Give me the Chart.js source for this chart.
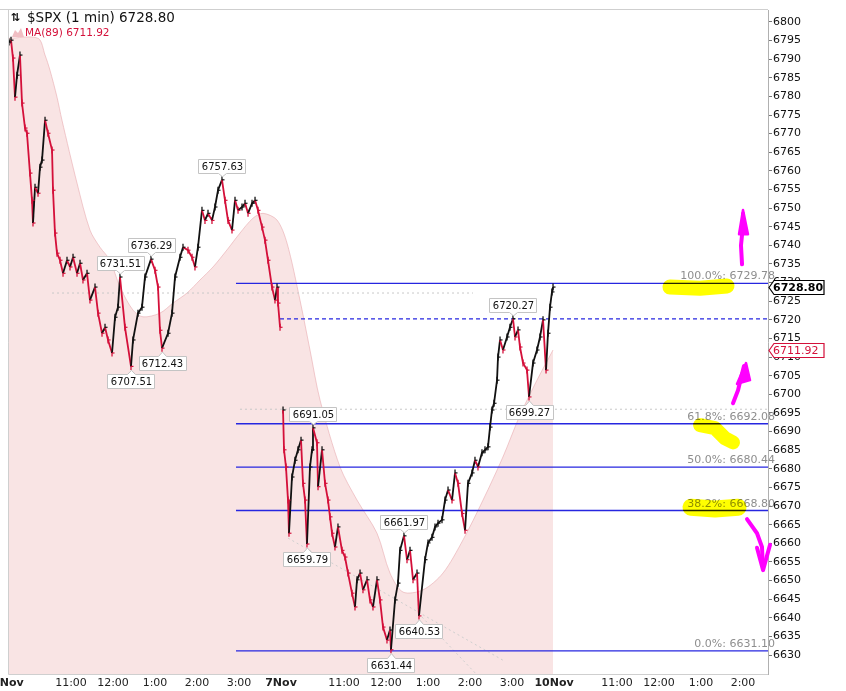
<!DOCTYPE html>
<html>
<head>
<meta charset="utf-8">
<script src="https://cdn.jsdelivr.net/npm/chart.js@4.4.1/dist/chart.umd.min.js"></script>
<style>
  html, body { margin: 0; padding: 0; background: #fff; }
  canvas { display: block; }
</style>
</head>
<body>
<canvas id="spxChart" width="846" height="691"></canvas>
<script>
// minutes counted from 6 Nov 9:30 (7 Nov opens at 390, 10 Nov at 780)
const nov6Minutes = [1.4, 4.3, 7.1, 10, 12.9, 17.1, 20, 24.3, 27.1, 31.4, 34.3, 35.7, 38.6, 42.9, 45.7, 48.6, 52.9, 57.1, 62.9, 64.3, 67.1, 70, 74.3, 78.6, 84.3, 88.6, 92.9, 98.6, 102.9, 107.1, 112.9, 117.1, 124.3, 128.6, 134.3, 138.6, 142.9, 148.6, 152.9, 157.1, 160, 167.1, 175.7, 178.6, 185.7, 191.4, 195.7, 204.3, 210, 214.3, 217.1, 220, 228.6, 234.3, 238.6, 245.7, 250, 257.1, 262.9, 267.1, 271.4, 277.1, 281.4, 285.7, 291.4, 295.7, 300, 305.7, 310, 314.3, 320, 324.3, 328.6, 334.3, 338.6, 342.9, 348.6, 352.9, 357.1, 362.9, 367.1, 371.4, 377.1, 381.4, 384.3, 385.7, 388.6]
const nov6Prices = [6794.6, 6795.1, 6790.3, 6779.8, 6785.7, 6791.1, 6778.2, 6771.5, 6770.1, 6759.4, 6752.1, 6746.0, 6755.6, 6754.0, 6761.0, 6762.9, 6773.6, 6770.1, 6765.6, 6754.8, 6743.3, 6737.9, 6736.0, 6732.5, 6736.0, 6734.2, 6736.8, 6732.5, 6735.2, 6730.7, 6732.5, 6725.3, 6728.8, 6721.8, 6716.4, 6718.0, 6714.6, 6711.1, 6720.7, 6723.4, 6731.5, 6718.0, 6707.5, 6714.6, 6721.8, 6723.4, 6731.5, 6736.3, 6733.3, 6728.8, 6717.2, 6712.4, 6716.4, 6721.8, 6731.5, 6736.8, 6739.5, 6738.7, 6736.8, 6734.2, 6739.5, 6749.4, 6746.7, 6748.6, 6746.7, 6750.3, 6754.8, 6757.6, 6752.1, 6746.7, 6744.1, 6752.1, 6749.4, 6750.3, 6751.3, 6748.6, 6751.3, 6752.1, 6749.4, 6744.9, 6741.4, 6736.0, 6728.8, 6725.3, 6728.8, 6724.5, 6718.0]

const nov7Minutes = [392.9, 394.3, 397.1, 400, 401.4, 405.7, 410, 414.3, 418.6, 421.4, 424.3, 427.1, 431.4, 434.3, 435.7, 441.4, 442.9, 448.6, 452.9, 457.1, 460, 462.9, 467.1, 471.4, 477.1, 481.4, 485.7, 491.4, 495.7, 498.6, 502.9, 507.1, 512.9, 517.1, 521.4, 527.1, 531.4, 535.7, 541.4, 545.7, 547.1, 552.9, 557.1, 560, 565.7, 570, 574.3, 578.6, 584.3, 587.1, 595.7, 600, 605.7, 610, 614.3, 620, 624.3, 628.6, 634.3, 638.6, 642.9, 648.6, 652.9, 657.1, 662.9, 667.1, 671.4, 677.1, 681.4, 685.7, 688.6, 691.4, 694.3, 698.6, 700, 702.9, 707.1, 712.9, 717.1, 721.4, 724.3, 728.6, 731.4, 735.7, 741.4, 744.3, 750, 755.7, 760, 764.3, 768.6, 771.4, 774.3, 777.1, 778.6]
const nov7Prices = [6695.8, 6685.1, 6680.5, 6671.6, 6662.7, 6677.8, 6682.3, 6685.1, 6687.7, 6676.1, 6671.6, 6659.8, 6680.5, 6685.1, 6691.0, 6687.0, 6675.2, 6685.1, 6676.1, 6671.6, 6667.1, 6662.7, 6659.0, 6664.4, 6658.1, 6656.3, 6652.0, 6646.6, 6642.9, 6650.2, 6652.0, 6647.5, 6650.2, 6644.8, 6642.9, 6650.2, 6644.8, 6637.5, 6634.0, 6636.7, 6631.4, 6644.8, 6649.3, 6658.1, 6662.0, 6655.6, 6658.1, 6650.2, 6652.0, 6640.5, 6655.6, 6660.1, 6661.6, 6664.4, 6665.4, 6666.3, 6671.6, 6674.3, 6671.6, 6678.9, 6676.1, 6668.0, 6663.5, 6676.1, 6678.9, 6682.3, 6680.5, 6684.3, 6685.1, 6685.9, 6691.2, 6695.8, 6697.6, 6703.8, 6710.0, 6714.6, 6711.9, 6715.4, 6718.0, 6720.3, 6715.4, 6717.3, 6712.7, 6708.4, 6706.5, 6699.3, 6708.4, 6711.9, 6715.4, 6720.0, 6706.5, 6716.4, 6723.4, 6727.5, 6728.8]

const maMinutes = [0, 42.9, 52.9, 60, 70, 77.1, 98.6, 117.1, 131.4, 145.7, 160, 178.6, 192.9, 217.1, 235.7, 255.7, 274.3, 292.9, 312.9, 331.4, 350, 364.3, 384.3, 398.6, 417.1, 431.4, 445.7, 474.3, 498.6, 527.1, 545.7, 564.3, 592.9, 621.4, 650, 678.6, 707.1, 731.4, 755.7, 778.6]
const maValues = [6795.6, 6795.6, 6791.1, 6787.0, 6779.8, 6773.6, 6756.7, 6744.1, 6739.5, 6736.0, 6728.8, 6722.6, 6720.8, 6721.8, 6724.5, 6727.2, 6730.7, 6734.2, 6738.8, 6743.3, 6747.3, 6748.6, 6746.8, 6740.6, 6725.3, 6711.9, 6698.5, 6680.5, 6671.6, 6662.7, 6652.0, 6646.9, 6647.5, 6652.0, 6660.9, 6671.6, 6683.2, 6694.4, 6703.8, 6711.9]

// swing high / low callouts
const calloutValues = [6757.63, 6736.29, 6731.51, 6712.43, 6707.51, 6720.27, 6699.27, 6691.05, 6659.79, 6661.97, 6640.53, 6631.44]
const calloutMinutes = [305.7, 204.3, 160, 220, 175.7, 721.4, 744.3, 435.7, 427.1, 565.7, 587.1, 547.1]
const calloutAbove = [true, true, true, false, false, true, false, true, false, true, false, false]

// fibonacci retracement
const fibLevels = [6729.78, 6692.08, 6680.44, 6668.80, 6631.10]
const fibNames = ['100.0%', '61.8%', '50.0%', '38.2%', '0.0%']
const fibStart = 325.7
const resistance = 6720.27
const resistanceStart = 388.6

// dotted helper lines
const dottedLevels = [6727.2, 6696.0]
const dottedStarts = [62.9, 331.4]
const dottedEnds = [664.3, 1085.7]
const trendA = [[400, 6661.4], [707.1, 6628.6]]
const trendB = [[591.4, 6640.2], [674.3, 6623.8]]

// axes
const xMin = 0
const xMax = 1085.7
const yMin = 6624.9
const yMax = 6803.2
const yTicks = []
for (let v = 6630; v <= 6800; v += 5) yTicks.push(v)
const xTickMinutes = [0, 90, 150, 210, 270, 330, 390, 480, 540, 600, 660, 720, 780, 870, 930, 990, 1050]
const xTickLabels = ['6Nov', '11:00', '12:00', '1:00', '2:00', '3:00', '7Nov', '11:00', '12:00', '1:00', '2:00', '3:00', '10Nov', '11:00', '12:00', '1:00', '2:00']

const lastPrice = 6728.80
const maLast = 6711.92

// hand drawn marks (minute, price)
const hiliteTop = [[945.7, 6728.8], [988.6, 6728.5], [1027.1, 6729.1]]
const hiliteMid = [[988.6, 6691.7], [1010, 6690.9], [1024.3, 6688.2], [1035.7, 6687.1]]
const hiliteLow = [[975.7, 6669.7], [1010, 6669.2], [1042.9, 6669.7]]
const arrowTopShaft = [[1048.6, 6734.9], [1047.1, 6740.0], [1050, 6745.4], [1050, 6748.5]]
const arrowTopHead = [[1044.3, 6743.0], [1050, 6749.5], [1057.1, 6743.0]]
const arrowMidShaft = [[1035.7, 6697.6], [1042.9, 6701.1], [1047.1, 6704.4], [1051.4, 6707.6]]
const arrowMidHead = [[1041.4, 6702.8], [1054.3, 6708.4], [1060, 6703.8]]
const arrowLowShaft = [[1055.7, 6666.5], [1070, 6662.7], [1077.1, 6659.0], [1078.6, 6653.1]]
const arrowLowHead = [[1070, 6658.8], [1078.6, 6652.8], [1088.6, 6659.6]]

const FONT = '"DejaVu Sans", Verdana, sans-serif'
const RED = '#d4103a'
const BLACK = '#111'
const BLUE = '#2626e0'

function pts(xs, ys) {
  return xs.map((x, i) => ({x: x, y: ys[i]}))
}

const priceData = pts(nov6Minutes, nov6Prices).concat([{x: 390, y: null}], pts(nov7Minutes, nov7Prices))

function barColor(ctx) {
  const d = ctx.dataset.data
  const i = ctx.dataIndex
  if (i == 0 || d[i - 1].y == null) return BLACK
  return d[i].y < d[i - 1].y ? RED : BLACK
}

const datasets = [
  {
    label: '$SPX',
    data: priceData,
    borderWidth: 1.8,
    borderColor: BLACK,
    segment: {
      borderColor: ctx => ctx.p1.parsed.y < ctx.p0.parsed.y ? RED : BLACK
    },
    pointStyle: 'dash',
    pointRadius: 2.5,
    pointBorderWidth: 1.2,
    pointBorderColor: barColor,
    spanGaps: false,
    order: 1
  },
  {
    // high-low stroke of each bar
    data: priceData,
    showLine: false,
    pointStyle: 'line',
    rotation: 90,
    pointRadius: 3.5,
    pointBorderWidth: 1.3,
    pointBorderColor: barColor,
    order: 2
  },
  {
    label: 'MA(89)',
    data: pts(maMinutes, maValues),
    borderColor: 'rgba(232, 170, 175, 0.6)',
    borderWidth: 1,
    backgroundColor: 'rgb(249, 228, 228)',
    fill: 'start',
    pointRadius: 0,
    tension: 0.3,
    order: 10
  },
  {
    data: [{x: resistanceStart, y: resistance}, {x: xMax, y: resistance}],
    borderColor: BLUE, borderWidth: 1.3, borderDash: [4, 3], pointRadius: 0, order: 4
  }
]

fibLevels.forEach(level => {
  datasets.push({
    data: [{x: fibStart, y: level}, {x: xMax, y: level}],
    borderColor: BLUE, borderWidth: 1.4, pointRadius: 0, order: 4
  })
})

dottedLevels.forEach((level, i) => {
  datasets.push({
    data: [{x: dottedStarts[i], y: level}, {x: dottedEnds[i], y: level}],
    borderColor: '#c8c8c8', borderWidth: 1, borderDash: [2, 3], pointRadius: 0, order: 6
  })
})

;[trendA, trendB].forEach(t => {
  datasets.push({
    data: t.map(p => ({x: p[0], y: p[1]})),
    borderColor: '#cfcfcf', borderWidth: 1, borderDash: [2, 3], pointRadius: 0, order: 6
  })
})

function toPx(chart, p) {
  return [chart.scales.x.getPixelForValue(p[0]), chart.scales.y.getPixelForValue(p[1])]
}

function strokePath(ctx, chart, list) {
  ctx.beginPath()
  list.forEach((p, i) => {
    const q = toPx(chart, p)
    if (i == 0) ctx.moveTo(q[0], q[1])
    else ctx.lineTo(q[0], q[1])
  })
}

function callout(ctx, px, py, text, above) {
  ctx.font = '10px ' + FONT
  const w = Math.round(ctx.measureText(text).width) + 6
  const h = 14
  const left = Math.round(px - w / 2) + 0.5
  px = Math.round(px) + 0.5
  let top
  ctx.beginPath()
  if (above) {
    const edge = Math.round(py - 7) + 0.5
    top = edge - h
    ctx.moveTo(left, top)
    ctx.lineTo(left + w, top)
    ctx.lineTo(left + w, edge)
    ctx.lineTo(px + 4, edge)
    ctx.lineTo(px, py - 3)
    ctx.lineTo(px - 4, edge)
    ctx.lineTo(left, edge)
  } else {
    const edge = Math.round(py + 8) + 0.5
    top = edge
    ctx.moveTo(left, edge)
    ctx.lineTo(px - 4, edge)
    ctx.lineTo(px, py + 4)
    ctx.lineTo(px + 4, edge)
    ctx.lineTo(left + w, edge)
    ctx.lineTo(left + w, edge + h)
    ctx.lineTo(left, edge + h)
  }
  ctx.closePath()
  ctx.fillStyle = '#fff'
  ctx.fill()
  ctx.strokeStyle = '#c4c4c4'
  ctx.lineWidth = 1
  ctx.stroke()
  ctx.fillStyle = '#111'
  ctx.textAlign = 'center'
  ctx.textBaseline = 'middle'
  ctx.fillText(text, px, top + h / 2 + 0.5)
}

function priceTag(ctx, x0, py, text, color, bold) {
  py = Math.round(py) + 0.5
  ctx.beginPath()
  ctx.moveTo(x0, py)
  ctx.lineTo(x0 + 5, py - 7)
  ctx.lineTo(x0 + 55, py - 7)
  ctx.lineTo(x0 + 55, py + 7)
  ctx.lineTo(x0 + 5, py + 7)
  ctx.closePath()
  ctx.fillStyle = '#fff'
  ctx.fill()
  ctx.strokeStyle = color
  ctx.lineWidth = 1.2
  ctx.stroke()
  ctx.font = (bold ? 'bold ' : '') + '11px ' + FONT
  ctx.fillStyle = color
  ctx.textAlign = 'left'
  ctx.textBaseline = 'middle'
  ctx.fillText(text, x0 + 4, py + 0.5)
}

const overlay = {
  id: 'overlay',
  beforeDraw(chart) {
    const ctx = chart.ctx
    ctx.save()
    ctx.fillStyle = '#fff'
    ctx.fillRect(0, 0, chart.width, chart.height)
    // fib labels sit under the axis labels
    ctx.font = '11px ' + FONT
    ctx.fillStyle = '#8e8e8e'
    ctx.textAlign = 'right'
    ctx.textBaseline = 'alphabetic'
    fibLevels.forEach((level, i) => {
      const y = chart.scales.y.getPixelForValue(level)
      ctx.fillText(fibNames[i] + ': ' + level.toFixed(2), chart.chartArea.right + 7, y - 4)
    })
    ctx.restore()
  },
  afterDatasetsDraw(chart) {
    const ctx = chart.ctx
    ctx.save()
    calloutValues.forEach((v, i) => {
      const q = toPx(chart, [calloutMinutes[i], v])
      callout(ctx, q[0], q[1], v.toFixed(2), calloutAbove[i])
    })
    ctx.restore()
  },
  afterDraw(chart) {
    const ctx = chart.ctx
    const area = chart.chartArea
    const xs = chart.scales.x
    const ys = chart.scales.y
    ctx.save()

    // frame
    ctx.strokeStyle = '#cfcfcf'
    ctx.lineWidth = 1
    ctx.beginPath()
    ctx.moveTo(0, area.top - 0.5)
    ctx.lineTo(area.right, area.top - 0.5)
    ctx.moveTo(area.left + 0.5, area.top)
    ctx.lineTo(area.left + 0.5, area.bottom + 0.5)
    ctx.lineTo(area.right, area.bottom + 0.5)
    ctx.stroke()

    // time axis labels
    ctx.fillStyle = '#222'
    ctx.textAlign = 'center'
    ctx.textBaseline = 'middle'
    xTickMinutes.forEach((m, i) => {
      const day = xTickLabels[i].indexOf('Nov') >= 0
      ctx.font = (day ? 'bold ' : '') + '11px ' + FONT
      ctx.fillText(xTickLabels[i], xs.getPixelForValue(m), area.bottom + 9)
    })

    // legend
    ctx.textAlign = 'left'
    ctx.fillStyle = '#111'
    ctx.font = 'bold 11px ' + FONT
    ctx.fillText('\u21C5', 11, 18)
    ctx.font = '13.5px ' + FONT
    ctx.fillText('$SPX (1 min) ' + lastPrice.toFixed(2), 27, 18)
    ctx.fillStyle = 'rgb(240, 190, 195)'
    ctx.beginPath()
    ctx.moveTo(12, 37)
    ctx.lineTo(15, 30)
    ctx.lineTo(18, 33)
    ctx.lineTo(21, 28)
    ctx.lineTo(24, 37)
    ctx.closePath()
    ctx.fill()
    ctx.fillStyle = RED
    ctx.font = '10.5px ' + FONT
    ctx.fillText('MA(89) ' + maLast.toFixed(2), 25, 33)

    // price tags on the axis
    priceTag(ctx, area.right + 1, ys.getPixelForValue(lastPrice), lastPrice.toFixed(2), '#000', true)
    priceTag(ctx, area.right + 1, ys.getPixelForValue(maLast), maLast.toFixed(2), RED, false)

    // hand drawn highlighter
    ctx.globalCompositeOperation = 'multiply'
    ctx.strokeStyle = '#ffff00'
    ctx.lineCap = 'round'
    ctx.lineJoin = 'round'
    ctx.lineWidth = 15
    strokePath(ctx, chart, hiliteTop)
    ctx.stroke()
    ctx.lineWidth = 14
    strokePath(ctx, chart, hiliteMid)
    ctx.stroke()
    ctx.lineWidth = 17
    strokePath(ctx, chart, hiliteLow)
    ctx.stroke()
    ctx.globalCompositeOperation = 'source-over'

    // hand drawn arrows
    ctx.strokeStyle = '#ff00ff'
    ctx.fillStyle = '#ff00ff'
    ctx.lineWidth = 4
    ;[[arrowTopShaft, arrowTopHead, true], [arrowMidShaft, arrowMidHead, true], [arrowLowShaft, arrowLowHead, false]].forEach(a => {
      strokePath(ctx, chart, a[0])
      ctx.stroke()
      strokePath(ctx, chart, a[1])
      if (a[2]) {
        ctx.closePath()
        ctx.fill()
        ctx.lineWidth = 2.5
        ctx.stroke()
        ctx.lineWidth = 4
      } else {
        ctx.stroke()
      }
    })
    ctx.restore()
  }
}

const ctx = document.getElementById('spxChart').getContext('2d')
const chart = new Chart(ctx, {
  type: 'line',
  data: { datasets: datasets },
  options: {
    responsive: false,
    animation: false,
    devicePixelRatio: 1,
    layout: { padding: { left: 8, top: 10, right: 0, bottom: 0 } },
    plugins: { legend: { display: false }, tooltip: { enabled: false } },
    elements: { line: { tension: 0 } },
    scales: {
      x: {
        type: 'linear',
        min: xMin,
        max: xMax,
        ticks: { display: false },
        grid: { display: false },
        border: { display: false },
        afterFit: scale => { scale.height = 17 }
      },
      y: {
        type: 'linear',
        position: 'right',
        min: yMin,
        max: yMax,
        afterBuildTicks: scale => { scale.ticks = yTicks.map(v => ({value: v})) },
        ticks: {
          autoSkip: false,
          padding: 1,
          color: '#111',
          font: { family: FONT, size: 11 },
          callback: v => String(v)
        },
        grid: { drawOnChartArea: false, tickLength: 4, tickColor: '#777' },
        border: { display: true, color: '#b0b0b0' },
        afterFit: scale => { scale.width = 78 }
      }
    }
  },
  plugins: [overlay]
})
</script>
</body>
</html>
